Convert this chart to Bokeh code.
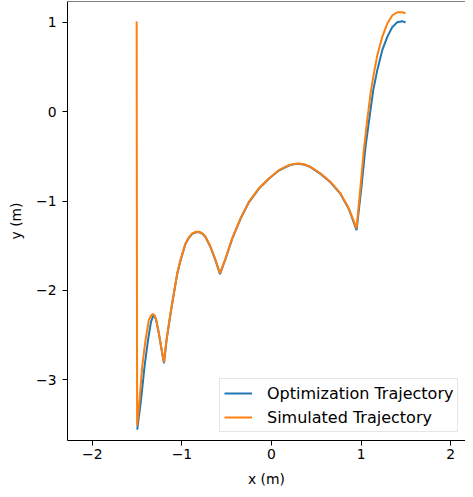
from bokeh.plotting import figure
from bokeh.models import FixedTicker, Range1d, Span
from bokeh.embed import file_html
from bokeh.resources import INLINE

# Optimization trajectory (blue)
opt_x = [-1.499, -1.456, -1.417, -1.378, -1.345, -1.317, -1.302, -1.287, -1.258, -1.220, -1.200,
         -1.172, -1.127, -1.090, -1.052, -1.016, -0.960, -0.920, -0.885, -0.848, -0.811, -0.774,
         -0.737, -0.681, -0.625, -0.575, -0.513, -0.439, -0.346, -0.253, -0.142, -0.030, 0.081,
         0.193, 0.250, 0.305, 0.370, 0.435, 0.547, 0.658, 0.770, 0.863, 0.949, 1.004, 1.049,
         1.094, 1.135, 1.180, 1.235, 1.291, 1.347, 1.403, 1.459, 1.496]
opt_y = [-3.559, -3.223, -2.851, -2.553, -2.352, -2.274, -2.290, -2.335, -2.480, -2.705, -2.815,
         -2.560, -2.260, -2.036, -1.813, -1.664, -1.478, -1.408, -1.366, -1.350, -1.346, -1.362,
         -1.402, -1.515, -1.664, -1.818, -1.645, -1.422, -1.198, -1.013, -0.862, -0.750, -0.658,
         -0.601, -0.586, -0.582, -0.593, -0.620, -0.695, -0.789, -0.919, -1.088, -1.324, -0.840,
         -0.393, -0.058, 0.240, 0.464, 0.687, 0.836, 0.947, 1.003, 1.015, 1.000]

# Simulated trajectory (orange)
sim_x = [-1.505, -1.500, -1.473, -1.443, -1.406, -1.369, -1.345, -1.325, -1.305, -1.287, -1.258,
         -1.220, -1.200, -1.172, -1.127, -1.090, -1.052, -1.016, -0.960, -0.920, -0.885, -0.848,
         -0.811, -0.774, -0.737, -0.681, -0.625, -0.575, -0.513, -0.439, -0.346, -0.253, -0.142,
         -0.030, 0.081, 0.193, 0.250, 0.305, 0.370, 0.435, 0.547, 0.658, 0.770, 0.863, 0.949,
         0.993, 1.030, 1.068, 1.105, 1.142, 1.180, 1.235, 1.291, 1.347, 1.403, 1.459, 1.496]
sim_y = [1.011, -3.514, -3.223, -2.851, -2.553, -2.330, -2.283, -2.263, -2.280, -2.330, -2.475,
         -2.698, -2.804, -2.553, -2.255, -2.031, -1.808, -1.659, -1.473, -1.403, -1.361, -1.346,
         -1.343, -1.359, -1.399, -1.511, -1.659, -1.808, -1.640, -1.417, -1.193, -1.008, -0.858,
         -0.746, -0.654, -0.598, -0.583, -0.579, -0.590, -0.617, -0.691, -0.784, -0.914, -1.082,
         -1.305, -0.840, -0.430, -0.095, 0.203, 0.427, 0.631, 0.836, 0.985, 1.078, 1.115, 1.115,
         1.104]

x_ticks = [-2, -1, 0, 1, 2]
x_tick_labels = ["\u22122", "\u22121", "0", "1", "2"]
y_ticks = [-3, -2, -1, 0, 1]
y_tick_labels = ["\u22123", "\u22122", "\u22121", "0", "1"]

FONT = "DejaVu Sans"
FS = "13.9px"

xr = Range1d(-2.277, 2.165)
yr = Range1d(-3.68, 1.235)

p = figure(width=465, height=489, output_backend="svg", toolbar_location=None,
           x_range=xr, y_range=yr,
           min_border_left=67, min_border_right=0, min_border_top=1,
           min_border_bottom=48)

p.line(opt_x, opt_y, line_color="#1f77b4", line_width=2, legend_label="Optimization Trajectory")
p.line(sim_x, sim_y, line_color="#ff7f0e", line_width=2, legend_label="Simulated Trajectory")

p.xgrid.visible = False
p.ygrid.visible = False
p.outline_line_color = None
# top spine (the right spine lies outside the visible area in the original)
p.add_layout(Span(location=yr.end, dimension="width", line_color="black", line_width=1))

for ax, ticks, labels, lab in ((p.xaxis[0], x_ticks, x_tick_labels, "x (m)"),
                                (p.yaxis[0], y_ticks, y_tick_labels, "y (m)")):
    ax.ticker = FixedTicker(ticks=ticks)
    ax.major_label_overrides = {t: l for t, l in zip(ticks, labels)}
    ax.axis_label = lab
    ax.axis_label_text_font = FONT
    ax.axis_label_text_font_size = FS
    ax.axis_label_text_font_style = "normal"
    ax.axis_label_text_color = "black"
    ax.major_label_text_font = FONT
    ax.major_label_text_font_size = FS
    ax.major_label_text_color = "black"
    ax.major_tick_out = 5
    ax.major_tick_in = 0
    ax.minor_tick_out = 0
    ax.minor_tick_in = 0
    ax.major_tick_line_color = "black"
    ax.axis_line_color = "black"

p.xaxis[0].major_label_standoff = 3
p.xaxis[0].axis_label_standoff = 9
p.yaxis[0].major_label_standoff = 6
p.yaxis[0].axis_label_standoff = 9

lg = p.legend[0]
lg.location = (152, 8)
lg.margin = 0
lg.padding = 4
lg.spacing = 4
lg.glyph_height = 20
lg.glyph_width = 28
lg.label_standoff = 15
lg.label_text_font = FONT
lg.label_text_font_size = "16px"
lg.label_text_color = "black"
lg.border_line_color = "#cccccc"
lg.border_line_width = 1
lg.background_fill_color = "white"
lg.background_fill_alpha = 0.8

open("out.html", "w").write(file_html(p, INLINE))
